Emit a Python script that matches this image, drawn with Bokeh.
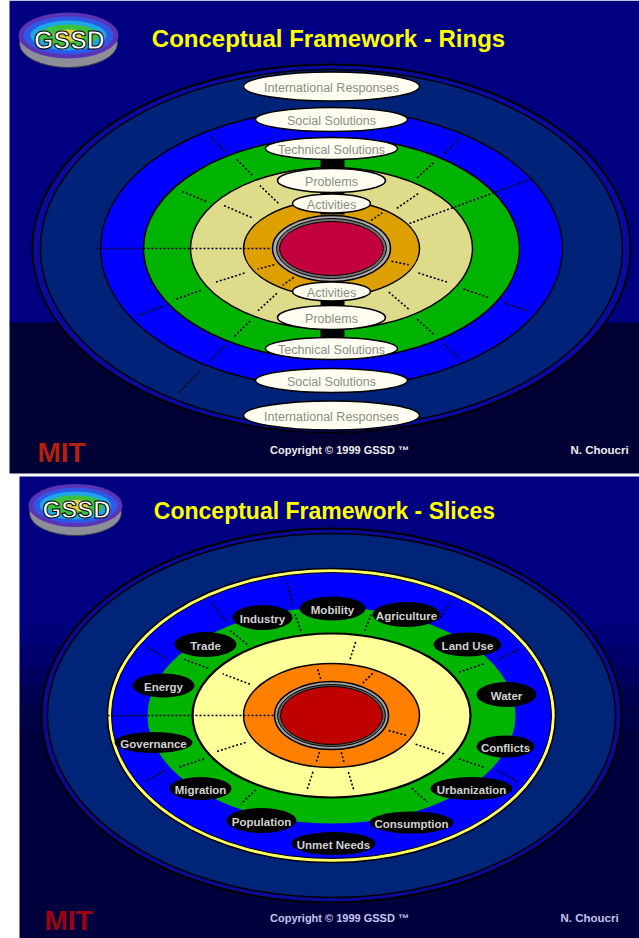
import numpy as np
from bokeh.plotting import figure
from bokeh.models import Range1d
from bokeh.core.properties import value
from bokeh.embed import file_html
from bokeh.resources import INLINE

# ---------------- data (texts) ----------------
ring_title = "Conceptual Framework - Rings"
slice_title = "Conceptual Framework - Slices"
ring_labels = ["International Responses", "Social Solutions", "Technical Solutions",
               "Problems", "Activities"]
slice_labels = ["Mobility", "Agriculture", "Industry", "Trade", "Land Use", "Energy",
                "Water", "Governance", "Conflicts", "Migration", "Urbanization",
                "Population", "Consumption", "Unmet Needs"]
copyright_text = "Copyright \u00a9 1999 GSSD \u2122"
author_text = "N. Choucri"
logo_text = "GSSD"
inst_text = "MIT"

# ---------------- layout ----------------
W, H = 639, 938
FONT = value("Liberation Sans")

p = figure(width=W, height=H, output_backend="svg", toolbar_location=None,
           x_range=Range1d(0, W), y_range=Range1d(H, 0),
           min_border=0, x_axis_location=None, y_axis_location=None)
p.grid.visible = False
p.outline_line_color = None
p.background_fill_color = "white"
p.border_fill_color = "white"

# slide backgrounds  (x0, x1, y0, y1, colour)
bands = [
    (9, 639, 0, 322, "#000080"),
    (9, 639, 322, 473, "#000035"),
    (19, 639, 476, 625, "#000080"),
    (19, 639, 625, 645, "#000078"),
    (19, 639, 645, 665, "#00006C"),
    (19, 639, 665, 685, "#000060"),
    (19, 639, 685, 705, "#000052"),
    (19, 639, 705, 730, "#000046"),
    (19, 639, 730, 938, "#00003C"),
]
p.quad(left=[b[0] for b in bands], right=[b[1] for b in bands],
       top=[b[2] for b in bands], bottom=[b[3] + (0.6 if b[3] not in (473, 938) else 0) for b in bands],
       fill_color=[b[4] for b in bands], line_color=None)


def ell_pt(cx, cy, rx, ry, ang):
    a = np.radians(ang)
    return cx + rx * np.cos(a), cy - ry * np.sin(a)


def draw_rings(cx, cy, rings):
    for rx, ry, col, lw in rings:
        p.ellipse(x=[cx], y=[cy], width=[2 * rx], height=[2 * ry], fill_color=col,
                  line_color="black" if lw > 0 else None, line_width=max(lw, 0.1))


def draw_seps(cx, cy, seps, longs):
    x0s, y0s, x1s, y1s = [], [], [], []
    for rxi, ryi, rxo, ryo, angs in seps:
        for a in angs:
            ra = rxi + 0.18 * (rxo - rxi); rb = rxi + 0.82 * (rxo - rxi)
            sa = ryi + 0.18 * (ryo - ryi); sb = ryi + 0.82 * (ryo - ryi)
            xa, ya = ell_pt(cx, cy, ra, sa, a)
            xb, yb = ell_pt(cx, cy, rb, sb, a)
            x0s.append(xa); y0s.append(ya); x1s.append(xb); y1s.append(yb)
    for rxi, ryi, rxo, ryo, a in longs:
        xa, ya = ell_pt(cx, cy, rxi, ryi, a)
        xb, yb = ell_pt(cx, cy, rxo, ryo, a)
        x0s.append(xa); y0s.append(ya); x1s.append(xb); y1s.append(yb)
    p.segment(x0=x0s, y0=y0s, x1=x1s, y1=y1s, line_color="black",
              line_width=1.6, line_dash="2 2")


def draw_logo(cx, cy, sc, fs):
    p.ellipse(x=[cx], y=[cy + 8 * sc], width=[98 * sc], height=[48 * sc],
              fill_color="#8E8E98", line_color="#3A3A50", line_width=1)
    layers = [(100, 46, "#5A34B4"), (90, 38, "#2E58E8"), (76, 30, "#1EA6E6"),
              (60, 22, "#3CC040"), (30, 12, "#E0D040")]
    for w, h, c in layers:
        p.ellipse(x=[cx], y=[cy], width=[w * sc], height=[h * sc], fill_color=c,
                  line_color=None)
    p.text(x=[cx + 1], y=[cy + 4 * sc], text=[logo_text], text_align="center",
           text_baseline="middle", text_font=FONT, text_font_style="bold",
           text_font_size=fs, text_color="white", text_outline_color="black")


def draw_footer(y, mit_x, col_copy, col_mit):
    p.text(x=[mit_x], y=[y], text=[inst_text], text_align="center",
           text_baseline="middle", text_font=FONT, text_font_style="bold",
           text_font_size="28px", text_color=col_mit)
    p.text(x=[339], y=[y - 3], text=[copyright_text], text_align="center",
           text_baseline="middle", text_font=FONT, text_font_style="bold",
           text_font_size="11px", text_color=col_copy)


# ======== TOP SLIDE : rings ========
tcx, tcy = 331, 248
top_rings = [
    (299, 184, "#0A0AA0", 2.0),
    (291, 179, "#00237A", 1.5),
    (231, 139, "#0000FF", 1.5),
    (188, 111, "#00B300", 1.5),
    (141, 81, "#DEDC8A", 1.5),
    (88, 48, "#DDA000", 1.5),
    (59, 33, "#AAAAAA", 1.5),
    (55, 30, "#707070", 1.0),
    (52, 27, "#C2003E", 1.0),
]
draw_rings(tcx, tcy, top_rings)
top_seps = [
    (231, 139, 291, 179, [237]),
    (188, 111, 231, 139, [55, 123, 210, 237, 305, 332]),
    (141, 81, 188, 111, [55, 122, 147, 209, 237, 305, 332]),
    (88, 48, 141, 81, [48, 123, 145, 207, 236, 306, 333]),
    (59, 33, 88, 48, [52, 207, 234, 339]),
]
top_longs = [(236, 141, 60, 34, 180), (90, 50, 231, 139, 30)]
draw_seps(tcx, tcy, top_seps, top_longs)

# black spine behind the label stacks
p.quad(left=[320, 320], right=[344, 344], top=[154, 284], bottom=[214, 342],
       fill_color="black", line_color=None)

up_dy = [-162, -129, -100, -68, -45]
lo_dy = [167, 132, 100, 69, 43]
lw_ = [176, 152, 132, 108, 78]
lh_ = [29, 24, 22, 24, 19]
lx = [tcx] * 10
ly = [tcy + d for d in up_dy] + [tcy + d for d in lo_dy]
p.ellipse(x=lx, y=ly, width=lw_ + lw_, height=lh_ + lh_, fill_color="#FFFDF0",
          line_color="black", line_width=1.5)
p.text(x=lx, y=[v + 1 for v in ly], text=ring_labels + ring_labels, text_align="center",
       text_baseline="middle", text_font=FONT, text_font_size="12.5px",
       text_color="#8A8E8A")

p.text(x=[328], y=[38], text=[ring_title], text_align="center", text_baseline="middle",
       text_font=FONT, text_font_style="bold", text_font_size="24px",
       text_color="#FFFF00")
draw_logo(68, 35, 1.0, "25px")
draw_footer(452, 61, "#EDEDED", "#B4200C")
p.text(x=[599], y=[449], text=[author_text], text_align="center", text_baseline="middle",
       text_font=FONT, text_font_style="bold", text_font_size="11.5px",
       text_color="#EDEDED")

# ======== BOTTOM SLIDE : slices ========
bcx, bcy = 331, 715
bot_rings = [
    (290, 187, "#0A0A96", 2.0),
    (284, 182, "#002478", 1.5),
    (224, 147, "#FFFF66", 1.5),
    (220, 143, "#0000FF", 1.0),
    (184, 108, "#00B400", 0),
    (139, 82, "#FFFF99", 2.2),
    (88, 52, "#FF8000", 1.5),
    (57, 34, "#A0A0A0", 1.5),
    (54, 31, "#606060", 1.0),
    (51, 29, "#C00000", 1.0),
]
draw_rings(bcx, bcy, bot_rings)
bot_seps = [
    (184, 108, 220, 143, [29, 56, 102, 124, 150, 209, 331]),
    (139, 82, 184, 108, [30, 77, 102, 125, 147, 210, 239, 303, 330]),
    (88, 52, 139, 82, [79, 147, 208, 259, 280, 330]),
    (57, 34, 88, 52, [60, 100, 259, 279, 336]),
]
bot_longs = [(224, 147, 58, 34, 180)]
draw_seps(bcx, bcy, bot_seps, bot_longs)

sx = [332, 406, 262, 205, 467, 163, 506, 153, 505, 200, 471, 261, 411, 333]
sy = [608, 614, 617, 644, 644, 685, 694, 742, 746, 788, 788, 820, 822, 843]
sw = [66, 68, 60, 62, 68, 62, 60, 78, 58, 62, 82, 70, 84, 84]
sh = [24, 25, 25, 25, 24, 24, 25, 21, 22, 23, 23, 25, 22, 23]
p.ellipse(x=sx, y=sy, width=sw, height=sh, fill_color="black", line_color=None)
p.text(x=sx, y=[v + 1 for v in sy], text=slice_labels, text_align="center",
       text_baseline="middle", text_font=FONT, text_font_style="bold",
       text_font_size="11.5px", text_color="#D2D2D2")

p.text(x=[324], y=[510], text=[slice_title], text_align="center", text_baseline="middle",
       text_font=FONT, text_font_style="bold", text_font_size="23px",
       text_color="#FFFF00")
draw_logo(75, 505, 0.94, "24px")
draw_footer(920, 68, "#C4C4EC", "#A00010")
p.text(x=[589], y=[917], text=[author_text], text_align="center", text_baseline="middle",
       text_font=FONT, text_font_style="bold", text_font_size="11.5px",
       text_color="#C4C4EC")

open("out.html", "w").write(file_html(p, INLINE))
